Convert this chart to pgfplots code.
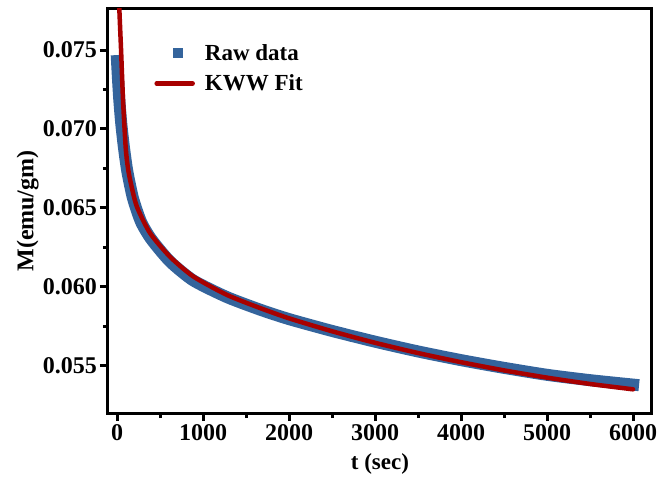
\documentclass[border=0pt]{standalone}
\usepackage{fontspec}
\setmainfont{Liberation Serif}
\usepackage{pgfplots}
\pgfplotsset{compat=1.18}
\definecolor{rawblue}{RGB}{52,100,156}
\definecolor{fitred}{RGB}{168,0,0}
\begin{document}
\begin{tikzpicture}
\begin{axis}[name=ax, at={(0,0)}, anchor=south west,
  width=544pt, height=404pt, scale only axis,
  xmin=-105, xmax=6220, ymin=0.0520, ymax=0.0776,
  xtick={0,1000,2000,3000,4000,5000,6000},
  ytick={0.055,0.060,0.065,0.070,0.075},
  minor x tick num=1, minor y tick num=1,
  tick pos=left, tick align=outside,
  axis line style={line width=3pt},
  major tick length=8pt, minor tick length=5pt,
  tick style={line width=3pt, black},
  scaled y ticks=false, scaled x ticks=false,
  /pgf/number format/assume math mode=true,
  xticklabel style={/pgf/number format/1000 sep={}, font=\fontsize{24}{28}\selectfont\bfseries},
  yticklabel style={/pgf/number format/.cd, fixed, fixed zerofill, precision=3, /tikz/.cd, font=\fontsize{24}{28}\selectfont\bfseries, inner xsep=3pt},
  xlabel={t (sec)}, ylabel={M(emu/gm)},
  xlabel style={font=\fontsize{23}{27}\selectfont\bfseries, at={(axis description cs:0.5,-0.141)}, anchor=base},
  ylabel style={font=\fontsize{24}{28}\selectfont\bfseries, at={(axis description cs:-0.137,0.5)}, anchor=base},
  legend style={draw=none, fill=none, at={(rel axis cs:0.085,0.918)}, anchor=north west,
    font=\fontsize{23}{27}\selectfont\bfseries, row sep=9pt, inner sep=0pt,
    column sep=8pt},
  legend cell align=left,
  clip=true,
]
\addplot[rawblue, line width=12pt, line cap=rect, line join=round, smooth, tension=0.4,
  legend image code/.code={\path[draw=none,fill=none] (0pt,0pt) -- (40pt,0pt); \fill[rawblue, draw=none] (18pt,-5pt) rectangle (28pt,5pt);}]
  coordinates {
  (0,0.0743) (12,0.0731) (27,0.0718) (50,0.0703) (81,0.0688) (120,0.0673)
  (186,0.0656) (280,0.0641) (400,0.0630) (616,0.0616) (887,0.0604)
  (1275,0.05935) (1663,0.05855) (2000,0.05795) (2500,0.0572) (3000,0.05652)
  (3500,0.0559) (4000,0.05535) (4500,0.05486) (5000,0.05442) (5500,0.05408) (6000,0.0538)
  };
\addlegendentry{Raw data}
\addplot[fitred, line width=4.5pt, line cap=round, line join=round, smooth, tension=0.4,
  legend image code/.code={\draw[fitred, line width=4.5pt, line cap=round] (2pt,0pt) -- (38pt,0pt);}]
  coordinates {
  (15,0.0800) (27,0.0776) (47,0.0750) (70,0.0718) (101,0.0688) (125,0.0676)
  (155,0.0667) (229,0.0651) (384,0.0634) (616,0.0619) (887,0.06065)
  (1275,0.05949) (1663,0.05865) (2000,0.05800) (2500,0.05718) (3000,0.05645)
  (3500,0.05580) (4000,0.05522) (4500,0.05470) (5000,0.05424) (5500,0.05384) (6000,0.0535)
  };
\addlegendentry{KWW Fit}
\end{axis}
\pgfresetboundingbox
\path (ax.south west) ++(-108pt,-70pt) rectangle ++(657pt,483pt);
\end{tikzpicture}
\end{document}
